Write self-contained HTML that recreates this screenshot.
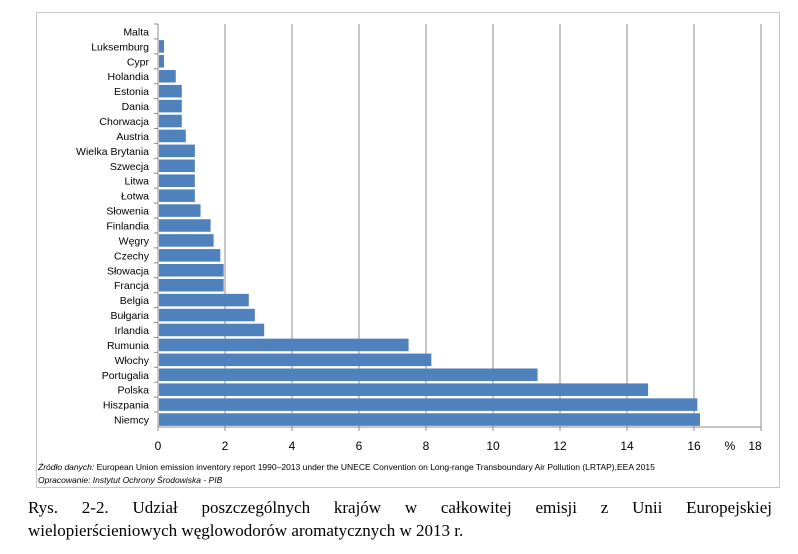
<!DOCTYPE html>
<html><head><meta charset="utf-8"><style>
body{margin:0;background:#fff;width:798px;height:554px;overflow:hidden;font-family:"Liberation Sans",sans-serif}
#frame{position:absolute;left:36px;top:12px;width:744px;height:476px;border:1px solid #c8c8c8;box-sizing:border-box}
.src{position:absolute;left:38px;font-size:8.5px;color:#000}
.cap{position:absolute;left:28px;width:744px;font-family:"Liberation Serif",serif;font-size:17px;text-align:justify;text-align-last:justify;color:#000}
</style></head><body>
<div id="frame"></div>
<svg id="chart" width="798" height="554" style="position:absolute;left:0;top:0"></svg>
<div class="src" style="top:462px"><i>Źródło danych:</i> European Union emission inventory report 1990–2013 under the UNECE Convention on Long-range Transboundary Air Pollution (LRTAP),EEA 2015</div>
<div class="src" style="top:475px"><i>Opracowanie: Instytut Ochrony Środowiska - PIB</i></div>
<div class="cap" style="top:498px">Rys. 2-2. Udział poszczególnych krajów w całkowitej emisji z Unii Europejskiej</div>
<div class="cap" style="top:521px;text-align-last:left">wielopierścieniowych węglowodorów aromatycznych w 2013 r.</div>
<script>
const categories=["Malta","Luksemburg","Cypr","Holandia","Estonia","Dania","Chorwacja","Austria","Wielka Brytania","Szwecja","Litwa","Łotwa","Słowenia","Finlandia","Węgry","Czechy","Słowacja","Francja","Belgia","Bułgaria","Irlandia","Rumunia","Włochy","Portugalia","Polska","Hiszpania","Niemcy"];
const values=[0,0.15,0.15,0.5,0.68,0.68,0.68,0.8,1.07,1.07,1.07,1.07,1.24,1.54,1.63,1.83,1.93,1.93,2.68,2.86,3.14,7.45,8.13,11.3,14.6,16.07,16.15];
const ticks=[0,2,4,6,8,10,12,14,16,18];
const NS="http://www.w3.org/2000/svg";
const svg=document.getElementById('chart');
const x0=158,x1=761,y0=24,y1=427,xmax=18;
const xs=v=>x0+(v/xmax)*(x1-x0);
const band=(y1-y0)/categories.length;
const yc=i=>y0+band*(i+0.5);
function mk(t,a){const e=document.createElementNS(NS,t);for(const k in a)e.setAttribute(k,a[k]);svg.appendChild(e);return e;}
ticks.forEach((t,i)=>{
 if(t>0){const g=mk('line',{x1:xs(t),x2:xs(t),y1:y0,y2:y1,stroke:'#8c8c8c','stroke-width':1});
 
 }
 const tk=mk('line',{x1:xs(t),x2:xs(t),y1:y1,y2:y1+4,stroke:'#8c8c8c'});
 
 
 const lb=mk('text',{x:xs(t)-(t===18?6:0),y:450,'font-size':12,'text-anchor':'middle','font-family':'Liberation Sans, sans-serif'});
 lb.textContent=t;
 
 
});
const pct=mk('text',{x:730,y:450,'font-size':12,'text-anchor':'middle','font-family':'Liberation Sans, sans-serif'});
pct.textContent='%';


categories.forEach((c,i)=>{
 const b=mk('rect',{x:x0+1,y:yc(i)-band*0.42,width:Math.max(0,xs(values[i])-x0),height:band*0.84,fill:'#4f81bd'});
 
 
 const t=mk('text',{x:x0-9,y:yc(i)+4,'font-size':10.5,'text-anchor':'end','font-family':'Liberation Sans, sans-serif'});
 t.textContent=c;
 
 
 const tk=mk('line',{x1:x0-4,x2:x0,y1:y0+band*i,y2:y0+band*i,stroke:'#8c8c8c'});
 
 
});
const ya=mk('line',{x1:x0,x2:x0,y1:y0,y2:y1,stroke:'#8c8c8c'});


const xa=mk('line',{x1:x0,x2:x1,y1:y1,y2:y1,stroke:'#8c8c8c'});


</script>
</body></html>
